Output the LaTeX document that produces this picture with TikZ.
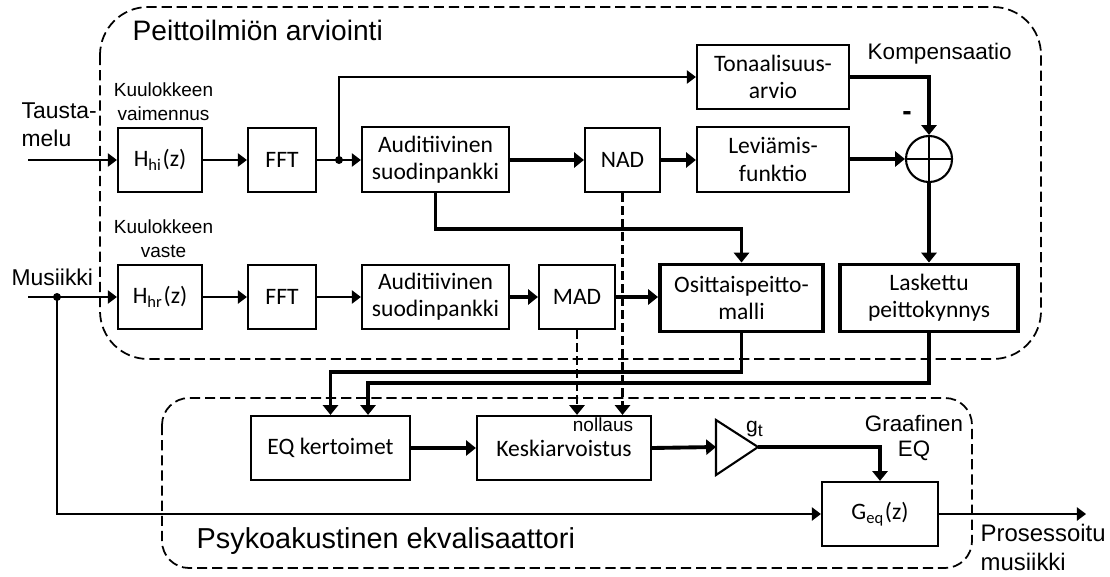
\documentclass[tikz,border=0pt]{standalone}
\usepackage{fontspec}
\setmainfont{Liberation Sans}
\newfontfamily\carlito{Carlito}
\usetikzlibrary{arrows.meta}
\newcommand\fsz[2]{\fontsize{#1}{#2}\selectfont}
\begin{document}
\begin{tikzpicture}[x=0.01cm,y=-0.01cm,
  blk/.style={draw, line width=0.6pt, inner sep=0pt, align=center,
    minimum height=0.64cm, font=\carlito\fsz{6.7pt}{7.7pt}},
  tblk/.style={blk, line width=1.1pt},
  thinln/.style={line width=0.5pt},
  thickln/.style={line width=1.1pt},
  tarr/.style={thinln, -{Triangle[length=2.6pt,width=3.8pt]}},
  karr/.style={thickln, -{Triangle[length=2.8pt,width=4.3pt]}},
  darr/.style={line width=0.7pt, dash pattern=on 2.4pt off 1.3pt, -{Triangle[length=2.8pt,width=4.3pt]}},
  grp/.style={line width=0.5pt, dash pattern=on 2.9pt off 1.4pt},
  lbl/.style={inner sep=0pt, align=center},
  dot/.style={circle, fill, inner sep=0pt, minimum size=0.08cm}
]
\useasboundingbox (0,0) rectangle (1110,576);

% group frames
\draw[grp, rounded corners=0.48cm] (100,7) rectangle (1041,359);
\draw[grp, rounded corners=0.27cm] (162,398) rectangle (972,568);
\node[lbl, anchor=base west, font=\fsz{8pt}{9.6pt}] (t1) at (132,41) {Peittoilmiön arviointi};
\node[lbl, anchor=base west, font=\fsz{8.2pt}{9.8pt}] (t2) at (196,548) {Psykoakustinen ekvalisaattori};

% row 1
\node[blk, minimum width=0.84cm] (hhi) at (160,160) {H\textsubscript{hi}(z)};
\node[blk, minimum width=0.68cm] (fft1) at (282,160) {FFT};
\node[blk, minimum width=1.47cm, minimum height=0.65cm] (aud1) at (435.5,159.5) {Auditiivinen\\suodinpankki};
\node[blk, minimum width=0.75cm] (nad) at (622.5,160) {NAD};
\node[blk, minimum width=1.52cm, minimum height=0.65cm] (lev) at (773,159.5) {Leviämis-\\funktio};
\node[blk, minimum width=1.52cm] (ton) at (773,77) {Tonaalisuus-\\arvio};
\node[circle, draw, line width=0.6pt, inner sep=0pt, minimum size=0.46cm] (sum) at (929,159) {};
\draw[line width=0.6pt] (sum.north) -- (sum.south) (sum.west) -- (sum.east);

% row 2
\node[blk, minimum width=0.84cm] (hhr) at (160,297) {H\textsubscript{hr}(z)};
\node[blk, minimum width=0.68cm] (fft2) at (282,297) {FFT};
\node[blk, minimum width=1.47cm] (aud2) at (435.5,297) {Auditiivinen\\suodinpankki};
\node[blk, minimum width=0.76cm] (mad) at (577,297) {MAD};
\node[tblk, minimum width=1.63cm, minimum height=0.67cm] (osi) at (741.5,298) {Osittaispeitto-\\malli};
\node[tblk, minimum width=1.78cm, minimum height=0.67cm] (las) at (929,298) {Laskettu\\peittokynnys};

% lower row
\node[blk, minimum width=1.59cm] (eq) at (330.5,448) {EQ kertoimet};
\node[blk, minimum width=1.74cm] (kes) at (564,448) {Keskiarvoistus};
\node[blk, minimum width=1.16cm] (geq) at (880,514) {G\textsubscript{eq}(z)};
\coordinate (ampin) at (716,447);
\coordinate (ampout) at (758,447);
\draw[line width=0.6pt] (716,420) -- (ampout) -- (716,475) -- cycle;

% labels
\node[lbl, anchor=base west, font=\fsz{6.4pt}{7.6pt}] (komp) at (867,60) {Kompensaatio};
\node[lbl, font=\bfseries\fsz{8pt}{9pt}] (minus) at (907,116) {-};
\node[lbl, anchor=west, align=left, font=\fsz{6.5pt}{8pt}] (tausta) at (21,125) {Tausta-\\melu};
\node[lbl, anchor=base west, font=\fsz{6.5pt}{8pt}] (musiikki) at (11,285) {Musiikki};
\node[lbl, font=\fsz{5.4pt}{6.7pt}] (kvaim) at (163.5,101.8) {Kuulokkeen\\vaimennus};
\node[lbl, font=\fsz{5.4pt}{6.7pt}] (kvaste) at (163.5,238.5) {Kuulokkeen\\vaste};
\node[lbl, anchor=base, font=\fsz{5.4pt}{6.5pt}] (noll) at (603,431) {nollaus};
\node[lbl, anchor=base west, font=\fsz{6pt}{7pt}] (gt) at (745.5,432) {g\textsubscript{t}};
\node[lbl, font=\fsz{6.35pt}{7.1pt}] (geqlbl) at (914,438) {Graafinen\\EQ};
\node[lbl, anchor=west, align=left, font=\fsz{6.8pt}{8pt}] (proc) at (980,547.4) {Prosessoitu\\musiikki};

% connectors row 1
\coordinate (tin) at (28,160);
\coordinate (j1) at (339,160);
\draw[tarr] (tin) -- (hhi.west);
\draw[tarr] (hhi) -- (fft1);
\draw[tarr] (fft1) -- (aud1.west |- fft1);
\node[dot] (j1d) at (j1) {};
\draw[tarr] (j1) |- (ton.west);
\draw[karr] (aud1.east |- nad) -- (nad.west);
\draw[karr] (nad) -- (lev.west |- nad);
\draw[karr] (lev.east |- sum) -- (sum.west);
\draw[karr] (ton.east) -| (sum.north);
\draw[karr] (sum.south) -- (las.north);
\coordinate (r1) at (741.5,229);
\draw[karr] (aud1.south) |- (r1) -- (osi.north);

% connectors row 2
\coordinate (min) at (28,297);
\coordinate (j2) at (57,297);
\draw[tarr] (min) -- (hhr.west);
\node[dot] (j2d) at (j2) {};
\draw[tarr] (hhr) -- (fft2);
\draw[tarr] (fft2) -- (aud2);
\draw[karr] (aud2) -- (mad);
\draw[karr] (mad.east) -- (osi.west |- mad);
\coordinate (r2) at (741.5,372);
\draw[karr] (osi.south) -- (r2) -| (eq.north);
\coordinate (r3) at (929,383);
\draw[karr] (las.south) -- (r3) -| ([xshift=0.375cm]eq.north);
\draw[darr] (nad.south) -- (nad.south |- kes.north);
\draw[darr] (mad.south) -- (mad.south |- kes.north);

% lower connectors
\draw[karr] (eq) -- (kes);
\draw[karr] (kes.east) -- (ampin);
\draw[karr] (ampout) -| (geq.north);
\draw[tarr] (j2) |- (geq.west);
\coordinate (out) at (1086,514);
\draw[tarr] (geq.east) -- (out);
\end{tikzpicture}
\end{document}
